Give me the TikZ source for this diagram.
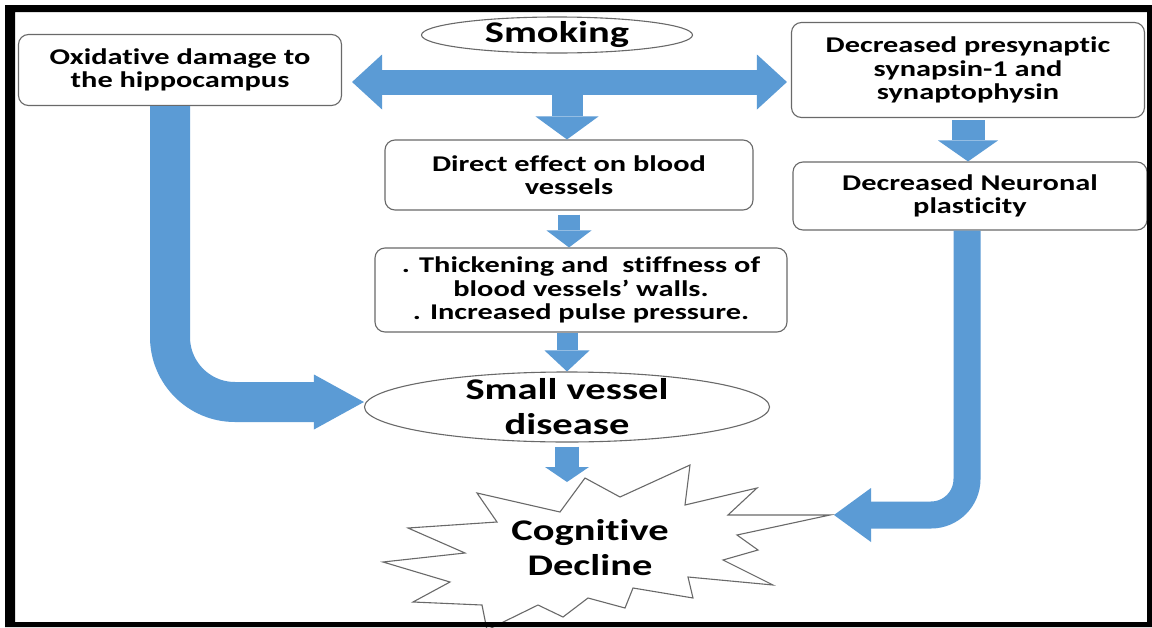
\documentclass[tikz,border=0pt]{standalone}
\usepackage{fontspec}
\setmainfont{Carlito}[FakeStretch=1.35,Ligatures=NoCommon]
\usetikzlibrary{arrows.meta,shapes.geometric}
\definecolor{blue1}{RGB}{91,155,213}
\definecolor{gray2}{RGB}{105,105,105}

\begin{document}
\begin{tikzpicture}[x=1pt,y=-1pt,
  box/.style={draw=gray2,line width=1.1pt,rounded corners=10pt,fill=white,inner sep=0pt,align=center,font=\fontsize{22.5}{23.5}\selectfont\bfseries},
  oval/.style={draw=gray2,line width=1.1pt,ellipse,fill=white,inner sep=0pt},
  big/.style={align=center,font=\fontsize{30}{35}\selectfont\bfseries},
  flow/.style={draw=blue1,line width=#1},
  head/.style 2 args={-{Triangle[length=#1,width=#2,line width=0pt]}}]
\useasboundingbox (0,0) rectangle (1152,627);
\fill[white] (0,0) rectangle (1152,627);
%
\node[oval,minimum width=271pt,minimum height=36pt,label={[big]center:Smoking}] (smoking) at (557,35) {};
\node[box,minimum width=323pt,minimum height=71pt] (oxid) at (180,70) {Oxidative damage to\\the hippocampus};
\node[box,minimum width=353pt,minimum height=95pt] (presyn) at (968,70) {Decreased presynaptic\\synapsin-1 and\\synaptophysin};
\node[box,minimum width=368pt,minimum height=70pt] (direct) at (569,175) {Direct effect on blood\\vessels};
\node[box,minimum width=354pt,minimum height=68pt] (neuro) at (970,196) {Decreased Neuronal\\plasticity};
\node[box,minimum width=412pt,minimum height=84pt] (thick) at (581,290) {. Thickening and\ \ stiffness of\\blood vessels’ walls.\\. Increased pulse pressure.};
\node[oval,minimum width=405pt,minimum height=70pt,label={[big]center:Small vessel\\disease}] (smallv) at (567,407) {};
%
% burst
\draw[draw=gray2,line width=1.1pt,fill=white] (477,493) -- (560,512) -- (585,478) -- (620,497) -- (690,465) -- (685,505)
  -- (757,488) -- (728,515) -- (830,515) -- (737,535) -- (758,550) -- (723,560) -- (773,585) -- (688,577)
  -- (693,598) -- (633,588) -- (625,608) -- (588,598) -- (563,617) -- (538,605) -- (487,630) -- (482,605)
  -- (413,602) -- (450,582) -- (383,562) -- (465,553) -- (408,528) -- (497,522) -- cycle;
\node[big] (cog) at (590,548) {Cognitive\\Decline};
\coordinate (cogtop) at (567,482);
\coordinate (cogright) at (834,515);
%
\coordinate (hub) at (567,82);
\draw[flow=25,{Triangle[length=30pt,width=55pt,line width=0pt]}-{Triangle[length=30pt,width=55pt,line width=0pt]}] ([xshift=10pt]oxid.east |- hub) -- ([xshift=-4pt]presyn.west |- hub);
\draw[flow=31,head={23pt}{63pt}] (hub) -- (hub |- direct.north);
\draw[flow=22,head={17pt}{45pt}] ([yshift=-4pt]direct.south) -- (direct.south |- thick.north);
\draw[flow=21,head={21pt}{45pt}] (smallv.north |- thick.south) -- (smallv.north);
\draw[flow=24,head={15pt}{44pt}] ([yshift=-4pt]smallv.south) -- (cogtop);
\draw[flow=33,head={21pt}{60pt}] ([yshift=-2pt]presyn.south) -- (presyn.south |- neuro.north);
%
\draw[flow=40,rounded corners=65pt,head={50pt}{55pt}] ([xshift=-10pt]oxid.south) |- ([yshift=5pt]smallv.west);
\draw[flow=27,rounded corners=36pt,head={37pt}{54pt}] ([xshift=-3pt]neuro.south) |- (cogright);
%
% frame
\fill[black,even odd rule] (5,5) rectangle (1152,627) (15,12) rectangle (1147,622);
\end{tikzpicture}
\end{document}
